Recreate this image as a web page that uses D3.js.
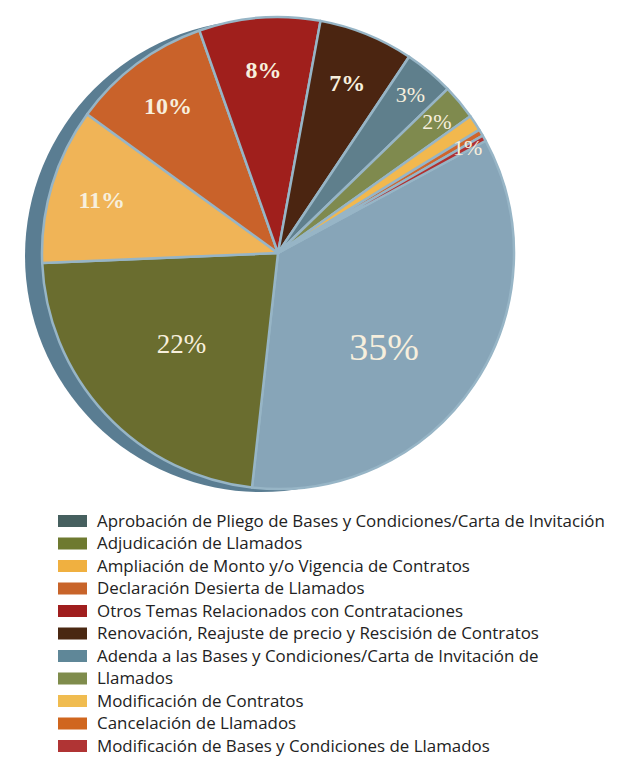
<!DOCTYPE html>
<html>
<head>
<meta charset="utf-8">
<script src="https://cdn.jsdelivr.net/npm/d3@7"></script>
<style>
  html, body { margin: 0; padding: 0; background: #ffffff; }
  svg { display: block; }
</style>
</head>
<body>
<svg id="chart" width="630" height="757"></svg>
<script>
const categories = [
  "Aprobación de Pliego de Bases y Condiciones/Carta de Invitación",
  "Adjudicación de Llamados",
  "Ampliación de Monto y/o Vigencia de Contratos",
  "Declaración Desierta de Llamados",
  "Otros Temas Relacionados con Contrataciones",
  "Renovación, Reajuste de precio y Rescisión de Contratos",
  "Adenda a las Bases y Condiciones/Carta de Invitación de",
  "Llamados",
  "Modificación de Contratos",
  "Cancelación de Llamados",
  "Modificación de Bases y Condiciones de Llamados"
];
const values = [34.7, 22.6, 10.7, 9.6, 8.3, 6.5, 3.4, 2.4, 1.1, 0.45, 0.4];
const pctLabels = ["35%", "22%", "11%", "10%", "8%", "7%", "3%", "2%", "", "", "1%"];
const sliceColors = ["#87a5b8", "#6a6d2f", "#f0b457", "#c9622a", "#a01f1c", "#4b2511", "#5f7f8c", "#7f8a4e", "#f2b84e", "#d0652c", "#b03030"];
const legendColors = ["#46605f", "#6e7a30", "#f0b040", "#c8642a", "#a01e1e", "#4a2812", "#5f8798", "#7f8c4c", "#f0bc50", "#d0661e", "#b03434"];

const svg = d3.select("#chart");
const cx = 278, cy = 253, R = 236;
const startDeg = 61.6;

// shadow disk
svg.append("circle")
  .attr("cx", cx - 17).attr("cy", cy + 3).attr("r", R)
  .attr("fill", "#5a7d92");

const pie = d3.pie().sort(null).value(d => d)
  .startAngle(startDeg * Math.PI / 180)
  .endAngle(startDeg * Math.PI / 180 + 2 * Math.PI);
const arcs = pie(values);
const arc = d3.arc().innerRadius(0).outerRadius(R);

const g = svg.append("g").attr("transform", `translate(${cx},${cy})`);
g.selectAll("path.slice").data(arcs).enter().append("path")
  .attr("class", "slice")
  .attr("d", arc)
  .attr("fill", (d, i) => sliceColors[i])
  .attr("stroke", "#97b5c6")
  .attr("stroke-width", 2.5)
  .attr("stroke-linejoin", "round");

function labelR(v) { return R * (v > 30 ? 0.6 : v > 15 ? 0.56 : v >= 5 ? 0.78 : v >= 2 ? 0.875 : 0.92); }
function labelSize(v) { return v > 30 ? 38 : v > 15 ? 27 : v >= 5 ? 24 : 22; }
function labelWeight(v) { return (v >= 5 && v <= 15) ? "bold" : "normal"; }

g.selectAll("text.pct").data(arcs.filter((d, i) => pctLabels[i] !== "")).enter().append("text")
  .attr("class", "pct")
  .attr("transform", d => {
    const r = labelR(d.data);
    // largest slice label sits a little further clockwise than its mid-angle
    const shift = d.data > 30 ? 0.13 : 0;
    const a = (d.startAngle + d.endAngle) / 2 + shift;
    return `translate(${r * Math.sin(a)},${-r * Math.cos(a)})`;
  })
  .attr("text-anchor", "middle")
  .attr("dy", "0.35em")
  .attr("font-family", "'Liberation Serif', 'DejaVu Serif', serif")
  .attr("font-size", d => labelSize(d.data))
  .attr("font-weight", d => labelWeight(d.data))
  .attr("fill", "#f7efdd")
  .text(d => pctLabels[d.index]);

// legend
const legendY = d3.scaleLinear().domain([0, categories.length - 1]).range([521, 746]);
const lg = svg.append("g");
const items = lg.selectAll("g.item").data(categories).enter().append("g")
  .attr("class", "item")
  .attr("transform", (d, i) => `translate(0,${legendY(i)})`);
items.append("rect")
  .attr("x", 58).attr("y", -6).attr("width", 29).attr("height", 12)
  .attr("fill", (d, i) => legendColors[i]);
items.append("text")
  .attr("x", 97).attr("y", 0).attr("dy", "0.35em")
  .attr("font-family", "'Open Sans', 'Noto Sans', sans-serif")
  .attr("font-size", 16.9)
  .attr("fill", "#222222")
  .text(d => d);
</script>
</body>
</html>
